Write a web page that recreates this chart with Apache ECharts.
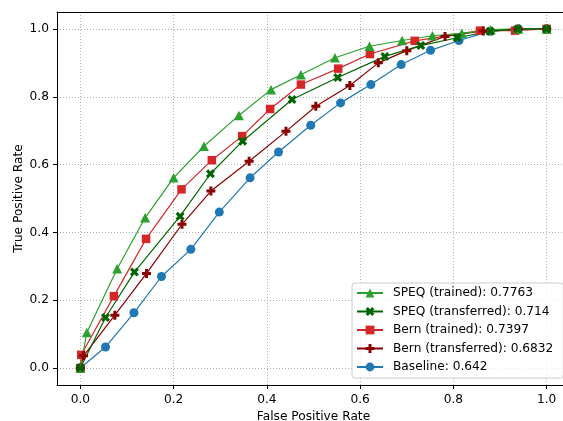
<!DOCTYPE html>
<html>
<head>
<meta charset="utf-8">
<script src="https://cdn.jsdelivr.net/npm/echarts@6/dist/echarts.min.js"></script>
<style>html,body{margin:0;padding:0;background:#fff}#c{width:563px;height:421px}</style>
</head>
<body>
<div id="c"></div>
<script>
const tickValues = [0, 0.2, 0.4, 0.6, 0.8, 1.0];

const speqTrainedX = [0, 0.014, 0.079, 0.139, 0.200, 0.265, 0.340, 0.409, 0.473, 0.546, 0.620, 0.690, 0.755, 0.818, 0.880, 0.939, 1.0];
const speqTrainedY = [0, 0.105, 0.293, 0.443, 0.561, 0.654, 0.745, 0.821, 0.865, 0.915, 0.949, 0.966, 0.980, 0.987, 0.998, 1.0, 1.0];

const speqTransX = [0, 0.054, 0.116, 0.214, 0.279, 0.348, 0.454, 0.552, 0.653, 0.730, 0.808, 0.879, 0.938, 1.0];
const speqTransY = [0, 0.149, 0.283, 0.448, 0.573, 0.669, 0.792, 0.857, 0.919, 0.951, 0.974, 0.993, 1.0, 1.0];

const bernTrainedX = [0, 0.002, 0.072, 0.141, 0.217, 0.282, 0.347, 0.407, 0.473, 0.553, 0.621, 0.717, 0.857, 0.932, 1.0];
const bernTrainedY = [0, 0.039, 0.212, 0.381, 0.527, 0.613, 0.684, 0.764, 0.836, 0.883, 0.926, 0.965, 0.995, 0.995, 1.0];

const bernTransX = [0, 0.007, 0.074, 0.142, 0.218, 0.280, 0.362, 0.441, 0.505, 0.578, 0.639, 0.700, 0.782, 0.864, 0.939, 1.0];
const bernTransY = [0, 0.036, 0.156, 0.279, 0.424, 0.522, 0.610, 0.698, 0.772, 0.833, 0.900, 0.936, 0.978, 0.994, 1.0, 1.0];

const baselineX = [0, 0.054, 0.115, 0.174, 0.237, 0.298, 0.364, 0.425, 0.494, 0.558, 0.623, 0.688, 0.751, 0.812, 0.878, 0.939, 1.0];
const baselineY = [0, 0.062, 0.163, 0.270, 0.350, 0.460, 0.561, 0.637, 0.716, 0.782, 0.836, 0.895, 0.937, 0.966, 0.993, 1.0, 1.0];

const names = {
  speqTrained: 'SPEQ (trained): 0.7763',
  speqTrans: 'SPEQ (transferred): 0.714',
  bernTrained: 'Bern (trained): 0.7397',
  bernTrans: 'Bern (transferred): 0.6832',
  baseline: 'Baseline: 0.642'
};

const FONT = 'DejaVu Sans';
const FS = 12.2;
const X_PATH = 'path://M1,0L2,1L3,0L4,1L3,2L4,3L3,4L2,3L1,4L0,3L1,2L0,1Z';
const P_PATH = 'path://M2,0L4,0L4,2L6,2L6,4L4,4L4,6L2,6L2,4L0,4L0,2L2,2Z';

function zip(xs, ys) { return xs.map((x, i) => [x, ys[i]]); }
function mk(name, xs, ys, color, symbol, size) {
  return {
    name: name, type: 'line', data: zip(xs, ys),
    symbol: symbol, symbolSize: size, showSymbol: true,
    lineStyle: { color: color, width: 1.2 },
    itemStyle: { color: color },
    emphasis: { disabled: true },
    animation: false
  };
}

const axisCommon = {
  type: 'value', min: -0.05, max: 1.05,
  axisLine: { show: true, onZero: false, lineStyle: { color: '#000', width: 1 } },
  axisTick: { show: true, customValues: tickValues, length: 4, inside: false, lineStyle: { color: '#000', width: 1 } },
  axisLabel: { customValues: tickValues, formatter: v => v.toFixed(1), color: '#000', fontSize: FS, fontFamily: FONT, margin: 9 },
  splitLine: { show: true, lineStyle: { color: '#b0b0b0', type: [1, 2], width: 1 } },
  nameLocation: 'middle',
  nameMoveOverlap: false,
  nameTextStyle: { color: '#000', fontSize: FS, fontFamily: FONT }
};

const chart = echarts.init(document.getElementById('c'), null, { renderer: 'canvas' });
chart.setOption({
  backgroundColor: '#fff',
  animation: false,
  grid: { left: 57, top: 12, width: 513, height: 373, containLabel: false, outerBoundsMode: 'none' },
  xAxis: [
    Object.assign({}, axisCommon, { name: 'False Positive Rate', nameGap: 26, position: 'bottom' }),
    { type: 'value', min: -0.05, max: 1.05, position: 'top',
      axisLine: { show: true, onZero: false, lineStyle: { color: '#000', width: 1 } },
      axisTick: { show: false }, axisLabel: { show: false }, splitLine: { show: false } }
  ],
  yAxis: [
    Object.assign({}, axisCommon, { name: 'True Positive Rate', nameGap: 32, nameRotate: 90,
      axisLabel: Object.assign({}, axisCommon.axisLabel, { margin: 8 }) })
  ],
  legend: {
    orient: 'vertical', left: 352, top: 283,
    data: [names.speqTrained, names.speqTrans, names.bernTrained, names.bernTrans, names.baseline],
    itemWidth: 26, itemHeight: 11, itemGap: 4.5,
    padding: [3, 10, 4, 4],
    backgroundColor: 'rgba(255,255,255,0.8)', borderColor: '#cccccc', borderWidth: 1, borderRadius: 3,
    textStyle: { color: '#000', fontSize: FS, fontFamily: FONT, lineHeight: 14, padding: [0, 0, 0, 5] },
    selectedMode: false
  },
  series: [
    mk(names.baseline, baselineX, baselineY, '#1f77b4', 'circle', 9),
    mk(names.bernTrained, bernTrainedX, bernTrainedY, '#d62728', 'rect', 8.5),
    mk(names.bernTrans, bernTransX, bernTransY, '#8b0000', P_PATH, 9),
    mk(names.speqTrained, speqTrainedX, speqTrainedY, '#2ca02c', 'triangle', [10, 9.5]),
    mk(names.speqTrans, speqTransX, speqTransY, '#006400', X_PATH, 9)
  ]
});
</script>
</body>
</html>
